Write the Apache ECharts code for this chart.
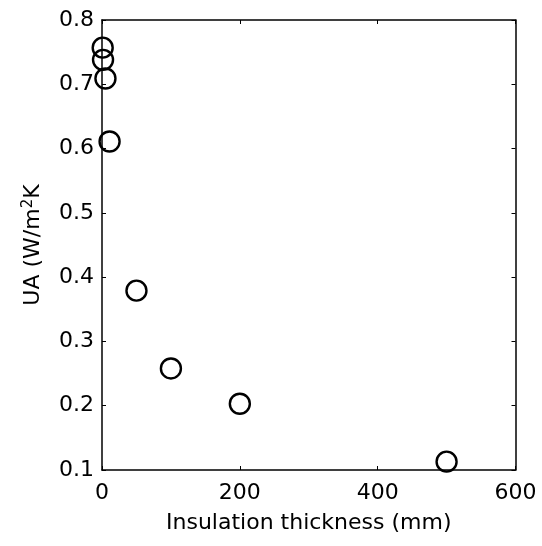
<!DOCTYPE html>
<html>
<head>
<meta charset="utf-8">
<script src="https://cdn.jsdelivr.net/npm/echarts@6/dist/echarts.min.js"></script>
<style>
  html, body { margin: 0; padding: 0; background: #fff; }
  #chart { width: 542px; height: 546px; }
</style>
</head>
<body>
<div id="chart"></div>
<script>
// insulation thickness (mm) vs UA
const thickness = [1, 1.5, 5, 11, 50, 100, 200, 500]
const uaValues = [0.757, 0.738, 0.709, 0.611, 0.379, 0.258, 0.203, 0.113]
const xTicks = [0, 200, 400, 600]
const yTicks = [0.1, 0.2, 0.3, 0.4, 0.5, 0.6, 0.7, 0.8]

const font = '"DejaVu Sans", Arial, Helvetica, sans-serif'
const points = thickness.map((x, i) => [x, uaValues[i]])

const chart = echarts.init(document.getElementById('chart'), null, { renderer: 'canvas' })

const lineStyle = { color: '#000', width: 1.5 }
const tickStyle = { show: true, inside: true, length: 4, lineStyle: { color: '#000', width: 1 } }

const option = {
  animation: false,
  backgroundColor: '#fff',
  grid: { left: 102, right: 26.5, top: 20, bottom: 76 },
  xAxis: [
    {
      type: 'value',
      min: xTicks[0],
      max: xTicks[xTicks.length - 1],
      interval: 200,
      position: 'bottom',
      name: 'Insulation thickness (mm)',
      nameLocation: 'middle',
      nameGap: 42,
      nameTextStyle: { color: '#000', fontSize: 22, fontFamily: font },
      axisLine: { show: true, onZero: false, lineStyle },
      axisTick: tickStyle,
      axisLabel: { color: '#000', fontSize: 22, fontFamily: font, margin: 12 },
      splitLine: { show: false }
    },
    {
      type: 'value',
      min: xTicks[0],
      max: xTicks[xTicks.length - 1],
      interval: 200,
      position: 'top',
      axisLine: { show: true, onZero: false, lineStyle },
      axisTick: tickStyle,
      axisLabel: { show: false },
      splitLine: { show: false }
    }
  ],
  yAxis: [
    {
      type: 'value',
      min: yTicks[0],
      max: yTicks[yTicks.length - 1],
      interval: 0.1,
      position: 'left',
      name: 'UA (W/m{sup|2}K',
      nameLocation: 'middle',
      nameGap: 56,
      nameRotate: 90,
      nameTextStyle: {
        color: '#000', fontSize: 22, fontFamily: font,
        rich: {
          sup: { fontSize: 15, verticalAlign: 'bottom', padding: [0, 0, 10, 0], color: '#000', fontFamily: font }
        }
      },
      axisLine: { show: true, onZero: false, lineStyle },
      axisTick: tickStyle,
      axisLabel: {
        color: '#000', fontSize: 22, fontFamily: font, margin: 8,
        formatter: v => v.toFixed(1)
      },
      splitLine: { show: false }
    },
    {
      type: 'value',
      min: yTicks[0],
      max: yTicks[yTicks.length - 1],
      interval: 0.1,
      position: 'right',
      axisLine: { show: true, onZero: false, lineStyle },
      axisTick: tickStyle,
      axisLabel: { show: false },
      splitLine: { show: false }
    }
  ],
  series: [
    {
      type: 'scatter',
      data: points,
      symbol: 'circle',
      symbolSize: 20,
      itemStyle: { color: 'rgba(0,0,0,0)', borderColor: '#000', borderWidth: 2.4, opacity: 1 },
      clip: false
    }
  ]
}

chart.setOption(option)
</script>
</body>
</html>
